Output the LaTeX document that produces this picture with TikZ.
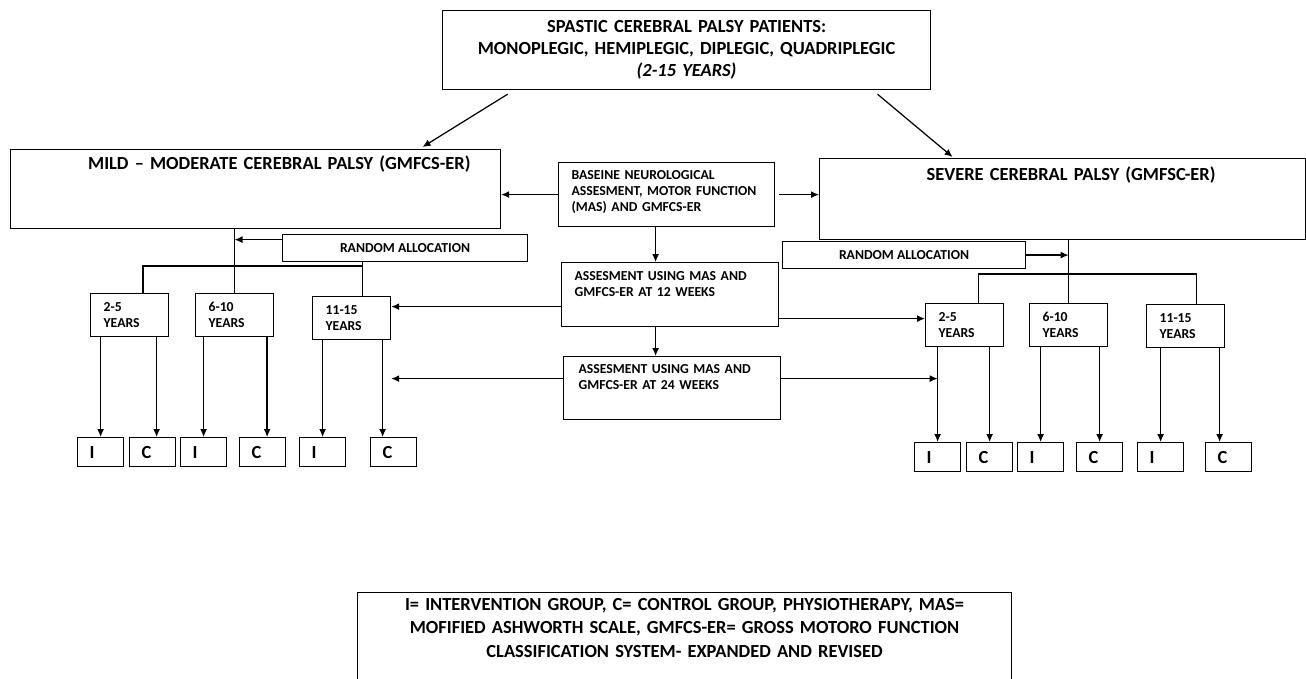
\documentclass[tikz,border=0pt]{standalone}
\usepackage{fontspec}
\setmainfont{Carlito}
\usetikzlibrary{arrows.meta}

\begin{document}
\begin{tikzpicture}[x=0.02cm,y=-0.02cm,line width=0.7pt,>={Latex[length=1.6mm,width=1.4mm]},
  box/.style={draw,anchor=north west,inner ysep=0pt,align=left,font=\bfseries\fontsize{7.8}{9.1}\selectfont},
  big/.style={box,inner xsep=0pt,align=center,font=\bfseries\fontsize{10.5}{12.5}\selectfont},
  age/.style={box,inner xsep=0.26cm,text width=1.04cm,text height=0.35cm,text depth=0.51cm},
  grp/.style={box,inner xsep=0.24cm,text width=0.44cm,minimum height=0.58cm,font=\bfseries\fontsize{10.5}{12.5}\selectfont}]

  \useasboundingbox (0,0) rectangle (1306,679);

  % Patients
  \node[big,text width=9.76cm,text height=0.44cm,text depth=1.14cm] (top) at (442,10)
    {SPASTIC CEREBRAL PALSY PATIENTS:\\ MONOPLEGIC, HEMIPLEGIC, DIPLEGIC, QUADRIPLEGIC\\ \textit{(2-15 YEARS)}};
  \node[big,align=right,inner xsep=0.6cm,text width=8.6cm,text height=0.4cm,text depth=1.18cm] (mild) at (10,149)
    {MILD -- MODERATE CEREBRAL PALSY (GMFCS-ER)};
  \node[big,align=right,inner xsep=1.8cm,text width=6.12cm,text height=0.44cm,text depth=1.18cm] (severe) at (819,158)
    {SEVERE CEREBRAL PALSY (GMFSC-ER)};

  % Assessments
  \node[box,inner xsep=0.26cm,text width=3.8cm,text height=0.33cm,text depth=0.95cm] (base) at (558,162)
    {BASEINE NEUROLOGICAL\\ ASSESMENT, MOTOR FUNCTION\\ (MAS) AND GMFCS-ER};
  \node[box,inner xsep=0.26cm,text width=3.82cm,text height=0.35cm,text depth=0.93cm] (wk12) at (561,262)
    {ASSESMENT USING MAS AND\\ GMFCS-ER AT 12 WEEKS};
  \node[box,inner xsep=0.3cm,text width=3.74cm,text height=0.33cm,text depth=0.93cm] (wk24) at (563,356)
    {ASSESMENT USING MAS AND\\ GMFCS-ER AT 24 WEEKS};

  % Random allocation
  \node[box,align=center,minimum width=4.9cm,minimum height=0.54cm] (rndL) at (282,234) {RANDOM ALLOCATION};
  \node[box,align=center,minimum width=4.86cm,minimum height=0.54cm] (rndR) at (782,241) {RANDOM ALLOCATION};

  % Age groups
  \node[age] (aL1) at (90,293) {2-5\\ YEARS};
  \node[age] (aL2) at (195,293) {6-10\\ YEARS};
  \node[age] (aL3) at (312,296) {11-15\\ YEARS};
  \node[age] (aR1) at (925,303) {2-5\\ YEARS};
  \node[age] (aR2) at (1029,303) {6-10\\ YEARS};
  \node[age] (aR3) at (1146,304) {11-15\\ YEARS};

  % Intervention / control
  \node[grp] (iL1) at (77,437) {I};
  \node[grp] (cL1) at (129,437) {C};
  \node[grp] (iL2) at (180,437) {I};
  \node[grp] (cL2) at (239,437) {C};
  \node[grp] (iL3) at (299,437) {I};
  \node[grp] (cL3) at (370,437) {C};
  \node[grp] (iR1) at (914,442) {I};
  \node[grp] (cR1) at (966,442) {C};
  \node[grp] (iR2) at (1017,442) {I};
  \node[grp] (cR2) at (1076,442) {C};
  \node[grp] (iR3) at (1137,442) {I};
  \node[grp] (cR3) at (1205,442) {C};

  % Legend
  \node[big,text width=13.08cm,text height=0.36cm,text depth=1.44cm,font=\bfseries\fontsize{10.5}{13.3}\selectfont] (key) at (357,592)
    {I= INTERVENTION GROUP, C= CONTROL GROUP, PHYSIOTHERAPY, MAS=\\ MOFIFIED ASHWORTH SCALE, GMFCS-ER= GROSS MOTORO FUNCTION\\ CLASSIFICATION SYSTEM- EXPANDED AND REVISED};

  % Split by severity
  \draw[->] ([xshift=-3.58cm,yshift=-0.08cm]top.south) -- ([xshift=3.34cm,yshift=0.04cm]mild.north);
  \draw[->] ([xshift=3.82cm,yshift=-0.08cm]top.south) -- ([xshift=-2.2cm,yshift=0.02cm]severe.north);
  \draw[->] (base.west) -- (base.west -| mild.east);
  \draw[->] ([xshift=0.08cm]base.east) -- (base.east -| severe.west);
  \draw[->] ([xshift=-0.22cm]base.south) -- ([xshift=-0.22cm]base.south |- wk12.north);
  \draw[->] ([xshift=-0.29cm]wk12.south) -- ([xshift=-0.29cm]wk12.south |- wk24.north);
  \draw[->] ([yshift=-0.24cm]wk12.west) -- ([yshift=-0.24cm]wk12.west -| aL3.east);
  \draw[->] ([yshift=-0.48cm]wk12.east) -- ([yshift=-0.48cm]wk12.east -| aR1.west);
  \draw[->] ([yshift=0.19cm]wk24.west) -- ([yshift=0.19cm]wk24.west -| aL3.east);
  \draw[->] ([yshift=0.19cm]wk24.east) -- ([yshift=0.19cm]wk24.east -| iR1.north);

  % Left tree
  \draw (mild.south -| aL2.north) -- (aL2.north);
  \draw[->] ([yshift=0.17cm]rndL.west) -- ([yshift=0.17cm]rndL.west -| aL2.north);
  \draw ([xshift=0.22cm]aL3.north) -- ([xshift=0.22cm]aL3.north |- rndL.south);
  \draw ([xshift=0.27cm]aL1.north) |- ([xshift=0.22cm,yshift=0.6cm]aL3.north);

  % Right tree
  \draw (severe.south -| aR2.north) -- (aR2.north);
  \draw[->] (rndR.east) -- (rndR.east -| aR2.north);
  \draw ([xshift=0.28cm]aR1.north) |- ([xshift=0.22cm,yshift=0.6cm]aR3.north) -- ([xshift=0.22cm]aR3.north);

  % Groups
  \foreach \a/\g/\s in {aL1/iL1/0,aL1/cL1/0.08,aL2/iL2/0,aL2/cL2/0.09,aL3/iL3/0,aL3/cL3/-0.22,
                        aR1/iR1/0,aR1/cR1/0,aR2/iR2/0,aR2/cR2/0,aR3/iR3/0,aR3/cR3/-0.18}
    \draw[->] ([xshift=\s cm]\a.south -| \g.north) -- ([xshift=\s cm]\g.north);

\end{tikzpicture}
\end{document}
